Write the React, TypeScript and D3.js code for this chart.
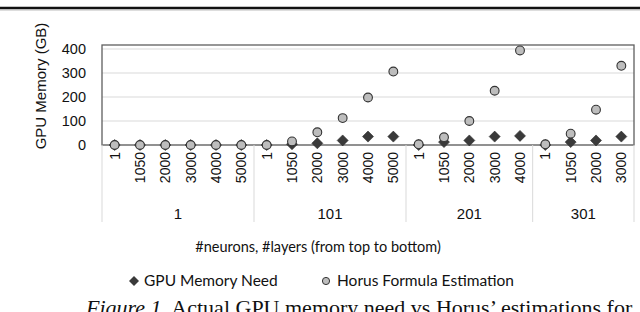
import * as d3 from "d3";

// #neurons groups and the #layers inside each group
const neuronGroups = ["1", "101", "201", "301"];
const layerLabels = [
  ["1", "1050", "2000", "3000", "4000", "5000"],
  ["1", "1050", "2000", "3000", "4000", "5000"],
  ["1", "1050", "2000", "3000", "4000"],
  ["1", "1050", "2000", "3000"],
];

// GB
const gpuNeed = [
  [0, 0, 0, 0, 0, 0],
  [0, 3, 7, 19, 35, 35],
  [0, 12, 19, 35, 38],
  [0, 12, 19, 35],
];
const horusEstimate = [
  [0, 0, 0, 0, 0, 0],
  [0, 15, 53, 112, 198, 306],
  [3, 32, 100, 226, 394],
  [3, 47, 147, 330],
];
const yTicks = [0, 100, 200, 300, 400];

const W = 640;
const H = 312;
const plot = { left: 102, right: 634, top: 45, zero: 145 };
const sans = "'Liberation Sans', Arial, sans-serif";
const narrow = "Lato, 'Open Sans', sans-serif";

export default function App() {
  const points = neuronGroups.flatMap((g, gi) =>
    layerLabels[gi].map((l, li) => ({
      key: `${g}-${l}`,
      group: g,
      layer: l,
      need: gpuNeed[gi][li],
      horus: horusEstimate[gi][li],
    }))
  );

  const x = d3
    .scaleBand()
    .domain(points.map((d) => d.key))
    .range([plot.left, plot.right])
    .padding(0);

  const y = d3.scaleLinear().domain([0, 400]).range([plot.zero, 49]);

  const cx = (k: string) => (x(k) ?? 0) + x.bandwidth() / 2;

  const groupSpans = neuronGroups.map((g, gi) => {
    const keys = layerLabels[gi].map((l) => `${g}-${l}`);
    const x0 = x(keys[0]) ?? 0;
    const x1 = (x(keys[keys.length - 1]) ?? 0) + x.bandwidth();
    return { g, x0, x1 };
  });

  const diamond = (px: number, py: number, r: number) =>
    `M${px},${py - r}L${px + r},${py}L${px},${py + r}L${px - r},${py}Z`;

  return (
    <svg
      width={W}
      height={H}
      style={{ position: "absolute", left: 0, top: 0, background: "#fff" }}
    >
      {/* page rule above the figure */}
      <line x1={0} x2={W} y1={8} y2={8} stroke="#111" strokeWidth={2.5} />
      <line x1={0} x2={W} y1={10} y2={10} stroke="#aaa" strokeWidth={0.8} />

      {/* gridlines */}
      {yTicks
        .filter((t) => t > 0)
        .map((t) => (
          <line
            key={t}
            x1={plot.left}
            x2={plot.right}
            y1={y(t)}
            y2={y(t)}
            stroke="#d9d9d9"
            strokeWidth={1}
          />
        ))}

      {/* plot frame */}
      <rect
        x={plot.left}
        y={plot.top}
        width={plot.right - plot.left}
        height={plot.zero - plot.top}
        fill="none"
        stroke="#5f5f5f"
        strokeWidth={1.3}
      />
      <line
        x1={plot.left}
        x2={plot.right}
        y1={y(0)}
        y2={y(0)}
        stroke="#8c8c8c"
        strokeWidth={1.2}
      />

      {/* y tick labels */}
      <g fontFamily={sans} fontSize={14.5} fill="#111" textAnchor="end">
        {yTicks.map((t) => (
          <text key={t} x={86} y={y(t)} dy="0.35em">
            {t}
          </text>
        ))}
      </g>
      <text
        transform={`translate(41,86) rotate(-90)`}
        fontFamily={sans}
        fontSize={15}
        textAnchor="middle"
        dy="0.35em"
        fill="#111"
      >
        GPU Memory (GB)
      </text>

      {/* group separators */}
      {[...groupSpans.map((s) => s.x0), plot.right].map((sx, i) => (
        <line
          key={i}
          x1={sx}
          x2={sx}
          y1={plot.zero}
          y2={222}
          stroke="#d9d9d9"
          strokeWidth={1}
        />
      ))}

      {/* layer labels */}
      <g fontFamily={sans} fontSize={14} fill="#111" textAnchor="end">
        {points.map((d) => (
          <text
            key={d.key}
            transform={`translate(${cx(d.key)},152) rotate(-90)`}
            dy="0.35em"
          >
            {d.layer}
          </text>
        ))}
      </g>

      {/* neuron group labels */}
      <g fontFamily={sans} fontSize={15} fill="#111" textAnchor="middle">
        {groupSpans.map((s) => (
          <text key={s.g} x={(s.x0 + s.x1) / 2} y={219}>
            {s.g}
          </text>
        ))}
      </g>

      {/* markers */}
      {points.map((d) => (
        <path
          key={`n-${d.key}`}
          d={diamond(cx(d.key), y(d.need), 5.5)}
          fill="#3a3a3a"
          stroke="#2a2a2a"
          strokeWidth={0.6}
        />
      ))}
      {points.map((d) => (
        <circle
          key={`h-${d.key}`}
          cx={cx(d.key)}
          cy={y(d.horus)}
          r={4.4}
          fill="#bdbdbd"
          stroke="#333"
          strokeWidth={1.1}
        />
      ))}

      {/* x title */}
      <text
        x={318}
        y={252}
        fontFamily={narrow}
        fontSize={14.5}
        textAnchor="middle"
        fill="#111"
      >
        #neurons, #layers (from top to bottom)
      </text>

      {/* legend */}
      <g fontFamily={narrow} fontSize={15.5} fill="#111">
        <path d={diamond(134, 281, 5)} fill="#3a3a3a" />
        <text x={144} y={286}>
          GPU Memory Need
        </text>
        <circle cx={326} cy={281} r={3.6} fill="#bdbdbd" stroke="#333" strokeWidth={1} />
        <text x={337} y={286}>
          Horus Formula Estimation
        </text>
      </g>

      {/* caption, cut by the crop */}
      <text
        x={86}
        y={315}
        fontFamily="'Liberation Serif', 'Times New Roman', serif"
        fontSize={22}
        fill="#111"
      >
        <tspan fontStyle="italic">Figure 1.</tspan> Actual GPU memory need vs Horus’ estimations for
      </text>
    </svg>
  );
}
